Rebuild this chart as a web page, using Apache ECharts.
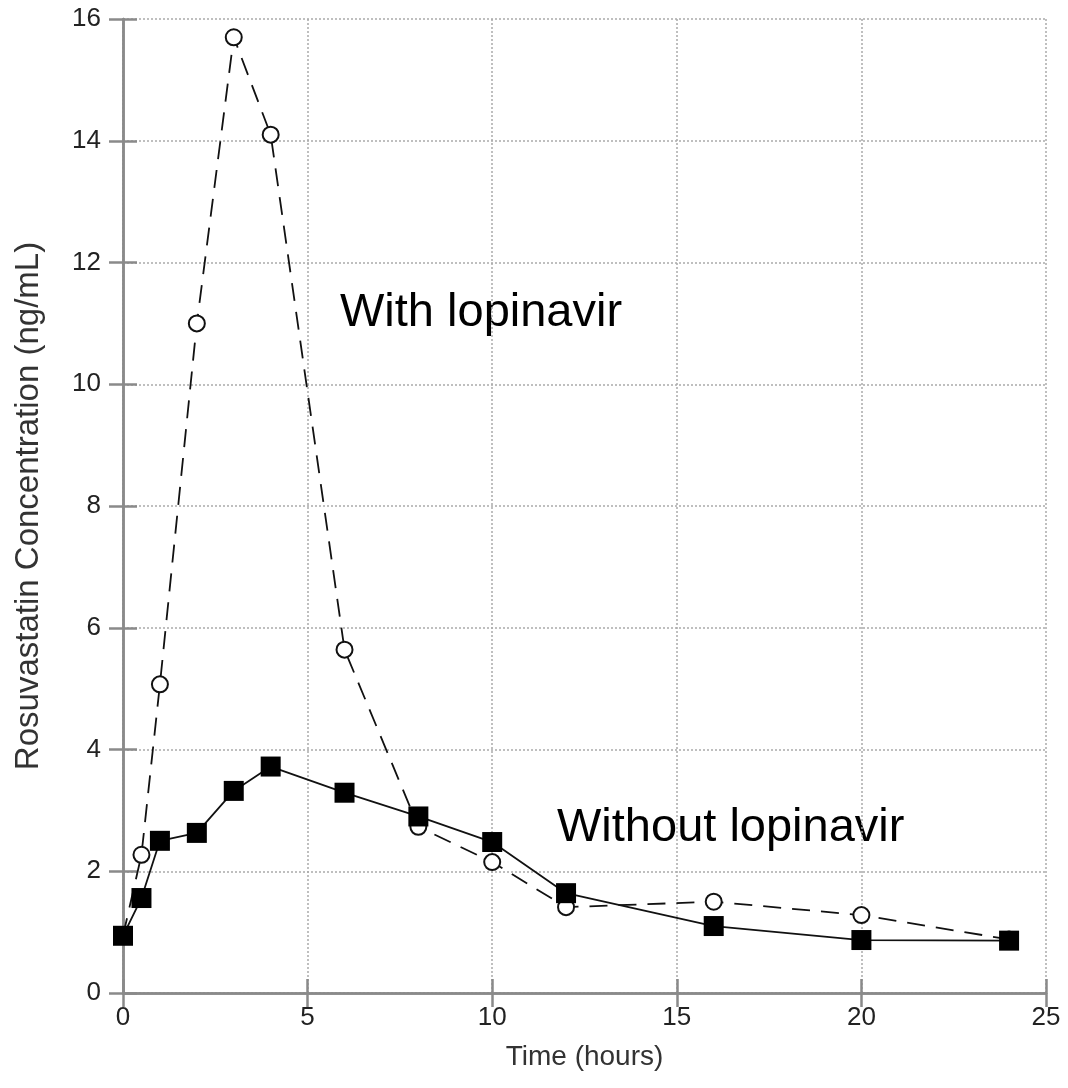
<!DOCTYPE html>
<html>
<head>
<meta charset="utf-8">
<script src="https://cdn.jsdelivr.net/npm/echarts@6/dist/echarts.min.js"></script>
<style>
  html, body { margin: 0; padding: 0; background: #fff; }
  #chart { width: 1068px; height: 1088px; }
</style>
</head>
<body>
<div id="chart"></div>
<script>
// time points (hours)
var hours = [0, 0.5, 1, 2, 3, 4, 6, 8, 10, 12, 16, 20, 24];
// rosuvastatin concentration, ng/mL
var withLopinavir = [0.94, 2.27, 5.07, 11.0, 15.7, 14.1, 5.64, 2.73, 2.15, 1.41, 1.5, 1.28, 0.88];
var withoutLopinavir = [0.94, 1.56, 2.5, 2.63, 3.32, 3.72, 3.29, 2.9, 2.48, 1.64, 1.1, 0.87, 0.86];

function pairs(xs, ys) {
  var out = [];
  for (var i = 0; i < xs.length; i++) out.push([xs[i], ys[i]]);
  return out;
}

var frame = '#8a8a8a';
var gridLine = { show: true, lineStyle: { color: '#aaaaaa', type: [2, 2], width: 1.5 } };
var font = 'Liberation Sans, Arial, sans-serif';
var tick = { show: true, inside: true, length: 14, lineStyle: { color: frame, width: 2.5 } };
var axLine = { show: true, lineStyle: { color: frame, width: 2.5 } };

var chart = echarts.init(document.getElementById('chart'));

chart.setOption({
  animation: false,
  backgroundColor: '#fff',
  grid: { left: 123, top: 19, right: 22, bottom: 95 },
  xAxis: [{
    type: 'value', min: 0, max: 25, interval: 5,
    name: 'Time (hours)', nameLocation: 'middle', nameGap: 50,
    nameTextStyle: { fontFamily: font, fontSize: 28, color: '#333' },
    axisLine: axLine,
    axisTick: tick,
    axisLabel: { fontFamily: font, fontSize: 26, color: '#222', margin: 12 },
    splitLine: gridLine
  }, {
    type: 'value', min: 0, max: 25, interval: 5, position: 'top',
    axisLine: axLine,
    axisTick: tick,
    axisLabel: { show: false },
    splitLine: { show: false }
  }],
  yAxis: [{
    type: 'value', min: 0, max: 16, interval: 2,
    name: 'Rosuvastatin Concentration (ng/mL)', nameLocation: 'middle', nameGap: 78,
    nameTextStyle: { fontFamily: font, fontSize: 33, color: '#333' },
    axisLine: axLine,
    axisTick: tick,
    axisLabel: { fontFamily: font, fontSize: 26, color: '#222', margin: 22 },
    splitLine: gridLine
  }, {
    type: 'value', min: 0, max: 16, interval: 2, position: 'right',
    axisLine: axLine,
    axisTick: tick,
    axisLabel: { show: false },
    splitLine: { show: false }
  }],
  series: [{
    name: 'With lopinavir',
    type: 'line',
    data: pairs(hours, withLopinavir),
    symbol: 'circle', symbolSize: 16,
    itemStyle: { color: '#fff', borderColor: '#111', borderWidth: 2 },
    lineStyle: { color: '#111', width: 1.8, type: [18, 11] },
    z: 2
  }, {
    name: 'Without lopinavir',
    type: 'line',
    data: pairs(hours, withoutLopinavir),
    symbol: 'rect', symbolSize: 20,
    itemStyle: { color: '#000', borderColor: '#000', borderWidth: 0 },
    lineStyle: { color: '#111', width: 1.8 },
    z: 3
  }],
  graphic: [{
    type: 'text', left: 340, top: 290,
    style: { text: 'With lopinavir', font: '47px ' + font, fill: '#000' }
  }, {
    type: 'text', left: 557, top: 805,
    style: { text: 'Without lopinavir', font: '47px ' + font, fill: '#000' }
  }]
});
</script>
</body>
</html>
